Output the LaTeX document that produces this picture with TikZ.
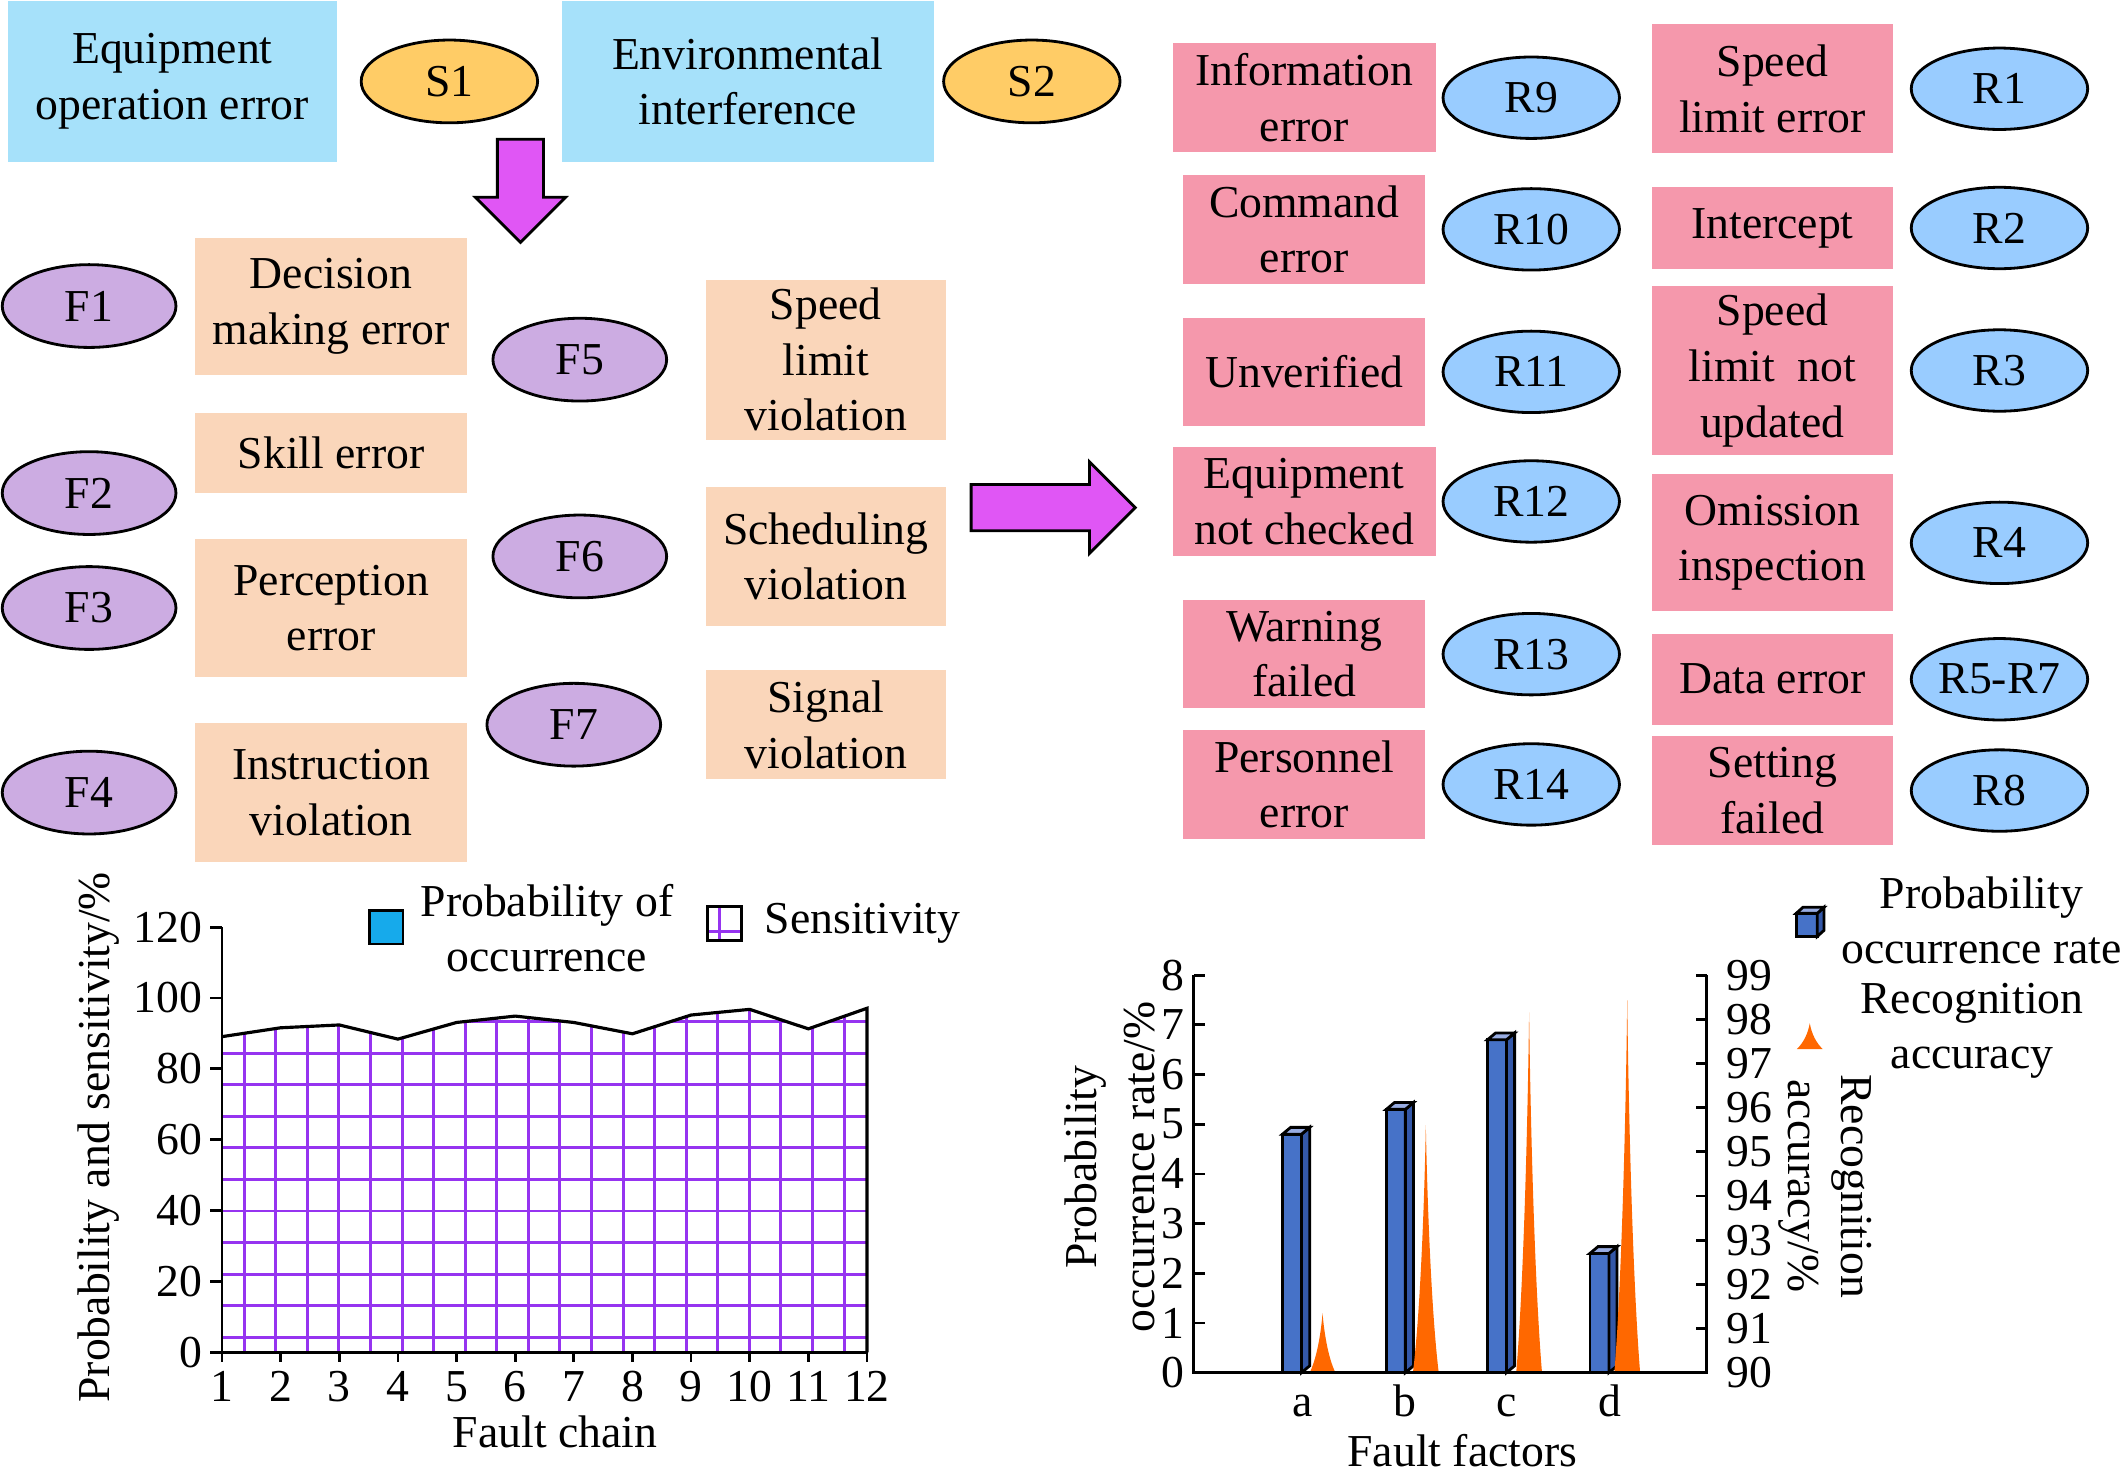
\documentclass[tikz,border=0pt]{standalone}
\usepackage{fontspec}
\setmainfont{Liberation Serif}
\usepackage{tikz}
\usetikzlibrary{shapes,arrows}
\usetikzlibrary{positioning}
\usepackage{xcolor}

\definecolor{srcblue}{RGB}{166,225,250}
\definecolor{srcyellow}{RGB}{255,204,102}
\definecolor{factpeach}{RGB}{250,214,186}
\definecolor{factlilac}{RGB}{204,172,226}
\definecolor{riskpink}{RGB}{245,152,172}
\definecolor{riskblue}{RGB}{153,204,255}
\definecolor{flowmagenta}{RGB}{224,86,245}
\definecolor{gridviolet}{RGB}{150,52,240}
\definecolor{legendblue}{RGB}{22,170,235}
\definecolor{barfront}{RGB}{70,114,200}
\definecolor{barside}{RGB}{52,88,168}
\definecolor{bartop}{RGB}{152,172,226}
\definecolor{spikeorange}{RGB}{255,104,0}

\newcommand{\pu}{0.1357mm}

\begin{document}
\begin{tikzpicture}[x=\pu, y=-\pu, node distance=22.7mm, on grid,
  every node/.style={font=\fontsize{13}{15.8}\selectfont},
  srcbox/.style={fill=srcblue, align=center, inner sep=0pt, minimum height=118*\pu},
  srcnode/.style={ellipse, draw, line width=0.8pt, fill=srcyellow, minimum width=130*\pu, minimum height=61*\pu, inner sep=0pt},
  factbox/.style={fill=factpeach, align=center, inner sep=0pt, minimum width=200*\pu},
  factnode/.style={ellipse, draw, line width=0.8pt, fill=factlilac, minimum width=128*\pu, minimum height=61*\pu, inner sep=0pt},
  riskbox/.style={fill=riskpink, align=center, inner sep=0pt, minimum width=178*\pu},
  risknode/.style={ellipse, draw, line width=0.8pt, fill=riskblue, minimum width=130*\pu, minimum height=60*\pu, inner sep=0pt},
  flowarrow/.style={single arrow, draw, line width=0.8pt, fill=flowmagenta, inner xsep=0pt, inner ysep=2.17mm, single arrow head extend=2.2mm},
  axisline/.style={line width=0.8pt},
  barline/.style={line width=0.8pt}]
  \useasboundingbox (0,0) rectangle (1568,1088);

  % Sources of faults
  \node[srcbox, minimum width=242*\pu] (eqop) at (127,60) {Equipment\\operation error};
  \node[srcnode, right=27.7mm of eqop] (S1) {S1};
  \node[srcbox, minimum width=274*\pu] (envi) at (551,60) {Environmental\\interference};
  \node[srcnode, right=28.4mm of envi] (S2) {S2};
  \node[flowarrow, shape border rotate=270, inner xsep=2.17mm, inner ysep=0pt, minimum height=76*\pu, anchor=tip] (todown) at (383.5,180) {};

  % Fault factors
  \node[factbox, minimum height=101*\pu] (decis) at (244,225.5) {Decision\\making error};
  \node[factnode, left=24.2mm of decis] (F1) {F1};
  \node[factbox, minimum height=59*\pu] (skill) at (244,333.5) {Skill error};
  \node[factnode, below=18.7mm of F1] (F2) {F2};
  \node[factbox, minimum height=102*\pu] (percep) at (244,448) {Perception\\error};
  \node[factnode, left=24.2mm of percep] (F3) {F3};
  \node[factbox, minimum height=102*\pu] (instr) at (244,584) {Instruction\\violation};
  \node[factnode, left=24.2mm of instr] (F4) {F4};
  \node[factbox, minimum width=177*\pu, minimum height=118*\pu] (speedv) at (608.5,265) {Speed\\limit\\violation};
  \node[factnode, left=24.6mm of speedv] (F5) {F5};
  \node[factbox, minimum width=177*\pu, minimum height=102*\pu] (sched) at (608.5,410) {Scheduling\\violation};
  \node[factnode, left=24.6mm of sched] (F6) {F6};
  \node[factbox, minimum width=177*\pu, minimum height=80*\pu] (signal) at (608.5,534) {Signal\\violation};
  \node[factnode, left=25.2mm of signal] (F7) {F7};
  \node[flowarrow, minimum height=121*\pu, single arrow head extend=2.27mm, anchor=tip] (toright) at (838,374) {};

  % Risk events
  \node[riskbox, minimum width=194*\pu, minimum height=80*\pu] (info) at (961,72) {Information\\error};
  \node[risknode, right=of info] (R9) {R9};
  \node[riskbox, minimum height=80*\pu] (cmd) at (961,169) {Command\\error};
  \node[risknode, right=of cmd] (R10) {R10};
  \node[riskbox, minimum height=80*\pu] (unver) at (961,274) {Unverified};
  \node[risknode, right=of unver] (R11) {R11};
  \node[riskbox, minimum width=194*\pu, minimum height=81*\pu] (eqnc) at (961,369.5) {Equipment\\not checked};
  \node[risknode, right=of eqnc] (R12) {R12};
  \node[riskbox, minimum height=80*\pu] (warn) at (961,482) {Warning\\failed};
  \node[risknode, right=of warn] (R13) {R13};
  \node[riskbox, minimum height=80*\pu] (pers) at (961,578) {Personnel\\error};
  \node[risknode, right=of pers] (R14) {R14};
  \node[riskbox, minimum width=177*\pu, minimum height=95*\pu] (speede) at (1306,65.4) {Speed\\limit error};
  \node[risknode, right=of speede] (R1) {R1};
  \node[riskbox, minimum width=177*\pu, minimum height=60*\pu] (interc) at (1306,168) {Intercept};
  \node[risknode, right=of interc] (R2) {R2};
  \node[riskbox, minimum width=177*\pu, minimum height=124*\pu] (speedn) at (1306,273) {Speed\\limit~ not\\updated};
  \node[risknode, right=of speedn] (R3) {R3};
  \node[riskbox, minimum width=177*\pu, minimum height=101*\pu] (omis) at (1306,400) {Omission\\inspection};
  \node[risknode, right=of omis] (R4) {R4};
  \node[riskbox, minimum width=177*\pu, minimum height=67*\pu] (data) at (1306,500.5) {Data error};
  \node[risknode, right=of data] (R5) {R5-R7};
  \node[riskbox, minimum width=177*\pu, minimum height=80*\pu] (sett) at (1306,582.5) {Setting\\failed};
  \node[risknode, right=of sett] (R8) {R8};

  % Fault chain chart
  \begin{scope}[shift={(120.4,996.4)}, x=5.862mm, y=0.3542mm]
    \begin{scope}
      \clip (1,0) -- (1,89.1) -- (2,91.6) -- (3,92.4) -- (4,88.4) -- (5,93.1) -- (6,94.9) -- (7,93.1)
        -- (8,89.9) -- (9,95.2) -- (10,96.8) -- (11,91.3) -- (12,97.1) -- (12,0) -- cycle;
      \foreach \gx in {0,...,19}
        \draw[gridviolet, line width=0.85pt] ({1.378+\gx*0.5385},0) -- ++(0,100);
      \foreach \gy in {0,...,10}
        \draw[gridviolet, line width=0.85pt] (1,{4.24+\gy*8.91}) -- (12,{4.24+\gy*8.91});
    \end{scope}
    \draw[line width=0.9pt] (1,89.1) -- (2,91.6) -- (3,92.4) -- (4,88.4) -- (5,93.1) -- (6,94.9) -- (7,93.1)
      -- (8,89.9) -- (9,95.2) -- (10,96.8) -- (11,91.3) -- (12,97.1) -- (12,0);
    \draw[axisline] (1,120) -- (1,0) -- (12,0);
    \foreach \v in {0,20,...,120}
      \draw[axisline] (1,\v) -- ++(-1.18mm,0) node[anchor=east, inner sep=0pt, xshift=-0.67mm] {\v};
    \foreach \k in {1,...,12}
      \draw[axisline] (\k,0) -- ++(0,-0.95mm) node[anchor=base, inner sep=0pt, yshift=-3.95mm] {\k};
  \end{scope}
  \node (chainx) at (409,1055) {Fault chain};
  \node[rotate=90] (chainy) at (73,838) {Probability and sensitivity/\%};
  \filldraw[fill=legendblue, line width=0.8pt] (272.5,671) rectangle (297,695.5);
  \node[align=center] (occleg) at (403,684) {Probability of\\occurrence};
  \draw[gridviolet, line width=0.85pt] (530,668) -- (530,693) (521.5,686) -- (546.6,686);
  \draw[line width=0.8pt] (521.5,668) rectangle (546.6,693);
  \node[anchor=west, inner sep=0pt] (sensleg) at (563,680.5) {Sensitivity};

  % Fault factor chart
  \begin{scope}[shift={(0,1011.4)}, x=\pu, y=4.967mm]
    \foreach \bx/\bh in {945/4.8, 1021.5/5.3, 1096/6.7, 1171.5/2.4} {
      \filldraw[barline, fill=barfront] (\bx,0) rectangle (\bx+14,\bh);
      \filldraw[barline, fill=barside] (\bx+14,0) -- (\bx+20,0.137) -- (\bx+20,\bh+0.137) -- (\bx+14,\bh) -- cycle;
      \filldraw[barline, fill=bartop] (\bx,\bh) -- (\bx+6,\bh+0.137) -- (\bx+20,\bh+0.137) -- (\bx+14,\bh) -- cycle;
    }
    \foreach \sx/\sh in {974.5/1.2, 1050.6/4.98, 1126.7/7.25, 1199/7.5}
      \fill[spikeorange] (\sx-9.5,0) .. controls (\sx-4,0.25*\sh) and (\sx-1,0.7*\sh) .. (\sx,\sh)
        .. controls (\sx+1,0.7*\sh) and (\sx+4,0.25*\sh) .. (\sx+9.5,0) -- cycle;
    \draw[axisline] (879.6,8) -- (879.6,0) -- (1257.5,0) -- (1257.5,8);
    \foreach \v in {0,...,8}
      \draw[axisline] (879.6,\v) node[anchor=east, inner sep=0pt, xshift=-0.76mm] {\v} -- ++(1.09mm,0);
    \foreach \v in {90,...,99}
      \draw[axisline] (1257.5,{(\v-90)*8/9}) node[anchor=west, inner sep=0pt, xshift=1.83mm] {\v} -- ++(-1.09mm,0);
    \foreach \cx/\cl in {959.5/a, 1035.4/b, 1110/c, 1186/d}
      \node[anchor=base, inner sep=0pt, yshift=-4.43mm] (cat\cl) at (\cx,0) {\cl};
  \end{scope}
  \node (factx) at (1077.5,1069) {Fault factors};
  \node[rotate=90, align=center, font=\fontsize{13}{16.5}\selectfont] (factyl) at (818,860) {Probability\\occurrence rate/\%};
  \node[rotate=-90, align=center, font=\fontsize{13}{15}\selectfont] (factyr) at (1345,874) {Recognition\\accuracy/\%};
  % legend
  \filldraw[barline, fill=barfront] (1323.5,673) rectangle (1339,690);
  \filldraw[barline, fill=barside] (1339,690) -- (1344,685.5) -- (1344,668.5) -- (1339,673) -- cycle;
  \filldraw[barline, fill=bartop] (1323.5,673) -- (1328.5,668.5) -- (1344,668.5) -- (1339,673) -- cycle;
  \node[align=center] (rateleg) at (1460,678) {Probability\\occurrence rate};
  \fill[spikeorange] (1324,773) .. controls (1329,768) and (1332,762) .. (1333.5,754)
    .. controls (1335,762) and (1338,768) .. (1343,773) -- cycle;
  \node[align=center] (accleg) at (1453,759.5) {Recognition\\accuracy};
\end{tikzpicture}
\end{document}
